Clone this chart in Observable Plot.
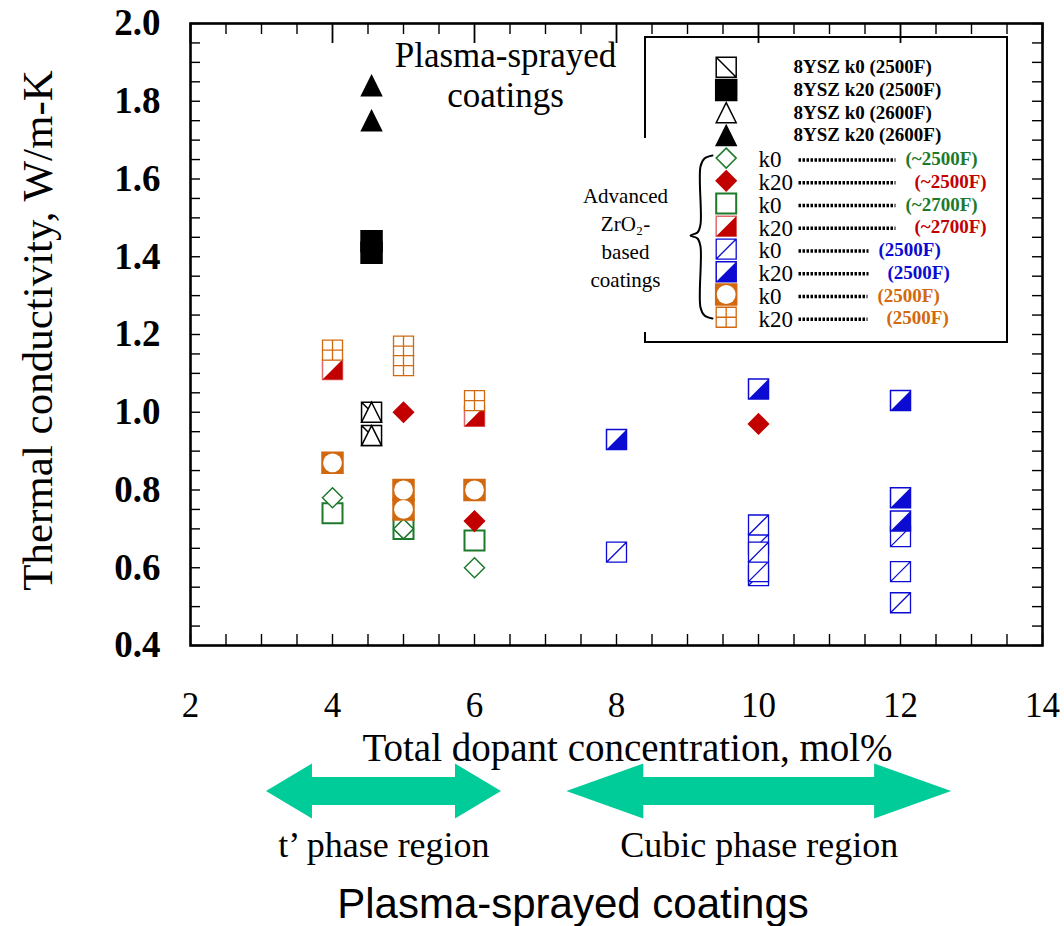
<!DOCTYPE html>
<html>
<head>
<meta charset="utf-8">
<script src="https://cdn.jsdelivr.net/npm/d3@7"></script>
<script src="https://cdn.jsdelivr.net/npm/@observablehq/plot@0.6"></script>
<style>
  body { margin: 0; background: #fff; }
  #chart { position: relative; width: 1064px; height: 926px; overflow: hidden; font-family: "Liberation Serif", "Times New Roman", serif; }
  #chart svg { display: block; }
  #legend { position: absolute; left: 570px; top: 30px; }
  #caption { position: absolute; left: 573px; top: 882px; transform: translateX(-50%);
             font: 42px "Liberation Sans", Arial, sans-serif; line-height: 44px; white-space: nowrap; color: #000; }
</style>
</head>
<body>
<div id="chart"><div id="main"></div><div id="phases"></div><div id="legend"></div><div id="caption">Plasma-sprayed coatings</div></div>
<script>
// ---- Data: [total dopant concentration (mol%), thermal conductivity (W/m-K)] ----
const ysz_k0_2500F   = [[4.55, 1.00], [4.55, 0.94]];
const ysz_k20_2500F  = [[4.55, 1.44], [4.55, 1.41]];
const ysz_k0_2600F   = [[4.55, 1.00], [4.55, 0.94]];
const ysz_k20_2600F  = [[4.55, 1.84], [4.55, 1.75]];
const adv_k0_2500F_green   = [[4, 0.78], [5, 0.70], [6, 0.60]];
const adv_k20_2500F_red    = [[5, 1.00], [6, 0.72], [10, 0.97]];
const adv_k0_2700F_green   = [[4, 0.74], [5, 0.70], [6, 0.67]];
const adv_k20_2700F_red    = [[4, 1.11], [6, 0.99]];
const adv_k0_2500F_blue    = [[8, 0.64], [10, 0.66], [10, 0.58], [10, 0.59], [10, 0.71], [10, 0.64], [12, 0.68], [12, 0.59], [12, 0.51]];
const adv_k20_2500F_blue   = [[8, 0.93], [10, 1.06], [12, 1.03], [12, 0.78], [12, 0.72]];
const adv_k0_2500F_orange  = [[4, 0.87], [5, 0.80], [5, 0.75], [6, 0.80]];
const adv_k20_2500F_orange = [[4, 1.16], [5, 1.17], [5, 1.12], [6, 1.03]];

const xTickLabels = [2, 4, 6, 8, 10, 12, 14];
const yTickLabels = [0.4, 0.6, 0.8, 1.0, 1.2, 1.4, 1.6, 1.8, 2.0];

// Phase regions along the dopant axis (mol%)
const phaseRegions = [
  {name: "t’ phase region", from: 3.07, to: 6.38},
  {name: "Cubic phase region", from: 7.30, to: 12.72}
];

// ---- Styles ----
const GREEN = "#1d7a2b", RED = "#c20000", BLUE = "#0b0bd2", ORANGE = "#d2690e";
const ARROW = "#00cc99";
const SIDE = 20;
const rOf = side => side / Math.sqrt(Math.PI);

// Custom marker glyphs (size -> side length)
const sym = fn => ({draw(ctx, size) { fn(ctx, Math.sqrt(size) / 2); }});
const box = (c, h) => { c.moveTo(-h, -h); c.lineTo(h, -h); c.lineTo(h, h); c.lineTo(-h, h); c.closePath(); };
const SQUARE       = sym(box);
const SQUARE_BACK  = sym((c, h) => { box(c, h); c.moveTo(-h, -h); c.lineTo(h, h); });
const SQUARE_SLASH = sym((c, h) => { box(c, h); c.moveTo(-h, h); c.lineTo(h, -h); });
const SQUARE_GRID  = sym((c, h) => { box(c, h); c.moveTo(0, -h); c.lineTo(0, h); c.moveTo(-h, 0); c.lineTo(h, 0); });
const HALF         = sym((c, h) => { c.moveTo(h, -h); c.lineTo(h, h); c.lineTo(-h, h); c.closePath(); });
const DIAMOND      = sym((c, h) => { c.moveTo(0, -h); c.lineTo(h, 0); c.lineTo(0, h); c.lineTo(-h, 0); c.closePath(); });
const TRIANGLE     = sym((c, h) => { c.moveTo(0, -h); c.lineTo(h, h); c.lineTo(-h, h); c.closePath(); });

// Series: data, marker layers and legend text
const series = {
  yszK0_2500:  {data: ysz_k0_2500F,  label: "8YSZ k0 (2500F)",  layers: [{symbol: SQUARE_BACK, fill: "white", stroke: "black"}]},
  yszK20_2500: {data: ysz_k20_2500F, label: "8YSZ k20 (2500F)", layers: [{symbol: SQUARE, fill: "black", stroke: "black", side: 21}]},
  yszK0_2600:  {data: ysz_k0_2600F,  label: "8YSZ k0 (2600F)",  layers: [{symbol: TRIANGLE, fill: "white", stroke: "black"}]},
  yszK20_2600: {data: ysz_k20_2600F, label: "8YSZ k20 (2600F)", layers: [{symbol: TRIANGLE, fill: "black", stroke: "black"}]},
  gK0_2500:  {data: adv_k0_2500F_green,  k: "k0",  temp: "(~2500F)", color: GREEN, layers: [{symbol: DIAMOND, fill: "white", stroke: GREEN}]},
  rK20_2500: {data: adv_k20_2500F_red,   k: "k20", temp: "(~2500F)", color: RED,   layers: [{symbol: DIAMOND, fill: RED, stroke: RED}]},
  gK0_2700:  {data: adv_k0_2700F_green,  k: "k0",  temp: "(~2700F)", color: GREEN, layers: [{symbol: SQUARE, fill: "white", stroke: GREEN, strokeWidth: 2}]},
  rK20_2700: {data: adv_k20_2700F_red,   k: "k20", temp: "(~2700F)", color: RED,   layers: [{symbol: SQUARE, fill: "white", stroke: "#e06a6a"}, {symbol: HALF, fill: RED}]},
  bK0:  {data: adv_k0_2500F_blue,    k: "k0",  temp: "(2500F)", color: BLUE,   layers: [{symbol: SQUARE_SLASH, fill: "white", stroke: BLUE, strokeWidth: 1.3}]},
  bK20: {data: adv_k20_2500F_blue,   k: "k20", temp: "(2500F)", color: BLUE,   layers: [{symbol: SQUARE, fill: "white", stroke: BLUE}, {symbol: HALF, fill: BLUE}]},
  oK0:  {data: adv_k0_2500F_orange,  k: "k0",  temp: "(2500F)", color: ORANGE, layers: [{symbol: SQUARE, fill: ORANGE, stroke: ORANGE, side: 21}, {symbol: "circle", fill: "white", r: 9.4}]},
  oK20: {data: adv_k20_2500F_orange, k: "k20", temp: "(2500F)", color: ORANGE, layers: [{symbol: SQUARE_GRID, fill: "white", stroke: ORANGE, strokeWidth: 1.3}]}
};
const legendOrder = ["yszK0_2500", "yszK20_2500", "yszK0_2600", "yszK20_2600",
  "gK0_2500", "rK20_2500", "gK0_2700", "rK20_2700", "bK0", "bK20", "oK0", "oK20"];
const drawOrder = ["gK0_2700", "gK0_2500", "rK20_2700", "rK20_2500", "bK0", "bK20",
  "oK0", "oK20", "yszK0_2500", "yszK0_2600", "yszK20_2500", "yszK20_2600"];

function markerMarks(data, layers, x, y) {
  return layers.map(l => Plot.dot(data, {
    x, y,
    symbol: l.symbol,
    r: l.r ?? rOf(l.side ?? SIDE),
    fill: l.fill,
    stroke: l.stroke ?? "none",
    strokeWidth: l.strokeWidth ?? 1.5
  }));
}

// ---- Main chart ----
const W = 1064, H = 770, MT = 23, MB = 125, ML = 190, MR = 22;
const innerW = W - ML - MR, innerH = H - MT - MB;
const xTicksAll = d3.range(2, 14.001, 0.5);
const yTicksAll = d3.range(0.4, 2.0001, 0.05);

const main = Plot.plot({
  width: W, height: H,
  marginTop: MT, marginBottom: MB, marginLeft: ML, marginRight: MR,
  x: {domain: [2, 14]},
  y: {domain: [0.4, 2.0]},
  style: {fontFamily: '"Liberation Serif", "Times New Roman", serif', fontSize: "34px", color: "black", background: "white", overflow: "visible"},
  marks: [
    // inward ticks on all four sides
    Plot.ruleX(xTicksAll, {insetTop: innerH - 11, strokeWidth: 1.4}),
    Plot.ruleX(xTicksAll.filter(v => v % 2 !== 0), {insetBottom: innerH - 11, strokeWidth: 1.4}),
    Plot.ruleX(xTickLabels, {insetBottom: innerH - 20, strokeWidth: 1.8}),
    Plot.ruleY(yTicksAll, {insetRight: innerW - 10, strokeWidth: 1.4}),
    Plot.ruleY(yTicksAll, {insetLeft: innerW - 10, strokeWidth: 1.4}),
    Plot.frame({stroke: "black", strokeWidth: 2.6}),
    Plot.axisX({ticks: xTickLabels, tickSize: 0, tickPadding: 47, fontSize: 35, label: null, tickFormat: d => String(d)}),
    Plot.axisY({ticks: yTickLabels, tickSize: 0, tickPadding: 30, fontSize: 37, fontWeight: "bold", label: null, tickFormat: d3.format(".1f")}),
    Plot.text(["Total dopant concentration, mol%"], {frameAnchor: "bottom", dx: 11, dy: 115, fontSize: 39}),
    Plot.text(["Thermal conductivity, W/m-K"], {frameAnchor: "left", textAnchor: "middle", dx: -152, dy: -4, rotate: -90, fontSize: 43}),
    Plot.text(["Plasma-sprayed\ncoatings"], {frameAnchor: "top", dx: -111, dy: 16, lineAnchor: "top", lineHeight: 1.12, fontSize: 35}),
    ...drawOrder.flatMap(key => markerMarks(series[key].data, series[key].layers, d => d[0], d => d[1]))
  ]
});
document.getElementById("main").append(main);

// ---- Phase-region arrows below the x axis ----
const pxPerUnit = innerW / 12;
const arrowHeadPx = {"t’ phase region": 46, "Cubic phase region": 77};
const AY = 21, HEAD_HALF = 27.5, SHAFT_HALF = 14;
const arrowPts = phaseRegions.flatMap(p => {
  const h = arrowHeadPx[p.name] / pxPerUnit;
  return [
    {name: p.name, x: p.from,     lo: AY,              hi: AY},
    {name: p.name, x: p.from + h, lo: AY - HEAD_HALF,  hi: AY + HEAD_HALF},
    {name: p.name, x: p.from + h, lo: AY - SHAFT_HALF, hi: AY + SHAFT_HALF},
    {name: p.name, x: p.to - h,   lo: AY - SHAFT_HALF, hi: AY + SHAFT_HALF},
    {name: p.name, x: p.to - h,   lo: AY - HEAD_HALF,  hi: AY + HEAD_HALF},
    {name: p.name, x: p.to,       lo: AY,              hi: AY}
  ];
});
const phases = Plot.plot({
  width: W, height: 100,
  marginTop: 0, marginBottom: 0, marginLeft: ML, marginRight: MR,
  x: {domain: [2, 14], axis: null},
  y: {type: "identity", axis: null},
  style: {fontFamily: '"Liberation Serif", "Times New Roman", serif', background: "white", overflow: "visible"},
  marks: [
    Plot.area(arrowPts, {x1: "x", y1: "lo", y2: "hi", z: "name", fill: ARROW, curve: "linear"}),
    Plot.text(phaseRegions, {x: d => (d.from + d.to) / 2, y: 75, text: "name", fontSize: 36})
  ]
});
document.getElementById("phases").append(phases);

// ---- Legend (drawn in its own panel, pixel coordinates) ----
const LX = 155.7, ROW0 = 36.7, ROWH = 22.73;
const rows = legendOrder.map((key, i) => ({key, i, y: ROW0 + i * ROWH, ...series[key]}));
const yszRows = rows.filter(r => r.label);
const advRows = rows.filter(r => r.k);
const dotEnd = r => r.color === BLUE ? 298 : r.color === ORANGE ? 297 : 325;
const tempX = r => dotEnd(r) + 10 + (r.k === "k20" ? 9 : 0);
const brace = [[142, 125], [134, 128], [130, 136], [130, 194], [127, 202], [120, 205], [127, 208], [130, 216], [130, 277], [134, 285], [142, 288]];

const legend = Plot.plot({
  width: 450, height: 320,
  margin: 0,
  x: {type: "identity", axis: null},
  y: {type: "identity", axis: null},
  style: {fontFamily: '"Liberation Serif", "Times New Roman", serif', background: "transparent", overflow: "visible"},
  marks: [
    Plot.rect([0], {x1: 75, x2: 437, y1: 7, y2: 312, fill: "none", stroke: "black", strokeWidth: 2}),
    Plot.rect([0], {x1: 68, x2: 84, y1: 108, y2: 302, fill: "white"}),
    ...rows.flatMap(r => markerMarks([r], r.layers, LX, d => d.y)),
    Plot.text(yszRows, {x: 223, y: "y", text: "label", textAnchor: "start", fontSize: 19, fontWeight: "bold"}),
    Plot.link(advRows, {x1: 228, x2: dotEnd, y1: d => d.y + 2, y2: d => d.y + 2, stroke: "black", strokeWidth: 3.5, strokeDasharray: "2.5 1.5"}),
    Plot.text(advRows, {x: 188, y: d => d.y + 2, text: "k", textAnchor: "start", fontSize: 23}),
    Plot.text(advRows, {x: tempX, y: d => d.y + 1, text: "temp", fill: "color", textAnchor: "start", fontSize: 19, fontWeight: "bold"}),
    Plot.line(brace, {curve: "catmull-rom", stroke: "black", strokeWidth: 2}),
    Plot.text(["Advanced\nZrO₂-\nbased\ncoatings"], {x: 55, y: 205.5, fontSize: 21, lineHeight: 1.33})
  ]
});
document.getElementById("legend").append(legend);
</script>
</body>
</html>
